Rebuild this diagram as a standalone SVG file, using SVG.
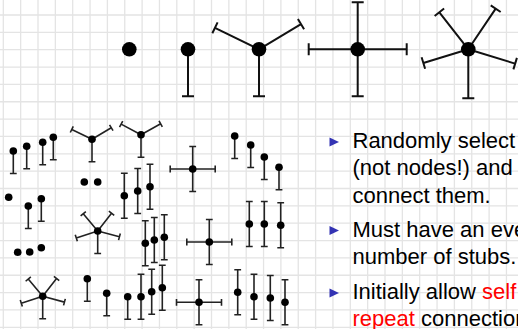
<svg xmlns="http://www.w3.org/2000/svg" xmlns:xlink="http://www.w3.org/1999/xlink" width="518" height="329" viewBox="0 0 518 329">
  <style>
    .grid { stroke: #e4e4e4; stroke-width: 1.3; fill: none; }
    .big { stroke: #111; stroke-width: 2; fill: none; }
    .sm { stroke: #222; stroke-width: 1.6; fill: none; }
    .dotL { fill: #000; }
    .dotS { fill: #000; }
    .t { font-family: "Liberation Sans", Arial, sans-serif; font-size: 22px; fill: #000; }
    .hl { fill: #ff0000; }
    .bul { fill: #3333b3; }
  </style>
  <defs>
    <!-- one stub hanging downward from the node centre, ending in a short bar -->
    <path id="sA" d="M0,0V47M-6,47H6"/>
    <path id="sB" d="M0,0V49M-6,49H6"/>
    <path id="s" d="M0,0V22.5M-3.4,22.5H3.4"/>
  </defs>

  <rect width="518" height="329" fill="#fff"/>
  <path class="grid" d="M3.3,0V329M20.65,0V329M38,0V329M55.35,0V329M72.7,0V329M90.05,0V329M107.4,0V329M124.75,0V329M142.1,0V329M159.45,0V329M176.8,0V329M194.15,0V329M211.5,0V329M228.85,0V329M246.2,0V329M263.55,0V329M280.9,0V329M298.25,0V329M315.6,0V329M332.95,0V329M350.3,0V329M367.65,0V329M385,0V329M402.35,0V329M419.7,0V329M437.05,0V329M454.4,0V329M471.75,0V329M489.1,0V329M506.45,0V329M0,15H518M0,32.35H518M0,49.7H518M0,67.05H518M0,84.4H518M0,101.75H518M0,119.1H518M0,136.45H518M0,153.8H518M0,171.15H518M0,188.5H518M0,205.85H518M0,223.2H518M0,240.55H518M0,257.9H518M0,275.25H518M0,292.6H518M0,309.95H518M0,327.3H518"/>

  <!-- top row: nodes of degree 0 to 5 -->
  <g id="deg0" transform="translate(129.3,49.3)">
    <circle class="dotL" r="7.3"/>
  </g>
  <g id="deg1" class="big" transform="translate(188,49.3)">
    <use xlink:href="#sA"/>
    <circle class="dotL" r="7.3" stroke="none"/>
  </g>
  <g id="deg3" class="big" transform="translate(259,49.3)">
    <use xlink:href="#sA"/>
    <use xlink:href="#sB" transform="rotate(116)"/>
    <use xlink:href="#sB" transform="rotate(-121)"/>
    <circle class="dotL" r="7.3" stroke="none"/>
  </g>
  <g id="deg4" class="big" transform="translate(357.7,49.3)">
    <use xlink:href="#sA"/>
    <use xlink:href="#sA" transform="rotate(180)"/>
    <use xlink:href="#sB" transform="rotate(90)"/>
    <use xlink:href="#sB" transform="rotate(-90)"/>
    <circle class="dotL" r="7.3" stroke="none"/>
  </g>
  <g id="deg5" class="big" transform="translate(468.3,49.3)">
    <use xlink:href="#sB"/>
    <use xlink:href="#sA" transform="rotate(73)"/>
    <use xlink:href="#sA" transform="rotate(142)"/>
    <use xlink:href="#sB" transform="rotate(-146)"/>
    <use xlink:href="#sB" transform="rotate(-73)"/>
    <circle class="dotL" r="7.3" stroke="none"/>
  </g>

  <!-- small network of stubbed nodes -->
  <g class="sm">
    <!-- isolated nodes -->
    <g id="n01" transform="translate(84.3,182)"><circle class="dotS" r="3.8" stroke="none"/></g>
    <g id="n02" transform="translate(97.7,182)"><circle class="dotS" r="3.8" stroke="none"/></g>
    <g id="n03" transform="translate(8.7,197.3)"><circle class="dotS" r="3.8" stroke="none"/></g>
    <g id="n04" transform="translate(17.7,252.3)"><circle class="dotS" r="3.8" stroke="none"/></g>
    <g id="n05" transform="translate(29.7,252)"><circle class="dotS" r="3.8" stroke="none"/></g>
    <g id="n06" transform="translate(41.3,247.7)"><circle class="dotS" r="3.8" stroke="none"/></g>

    <!-- one stub -->
    <g id="n07" transform="translate(13.3,151)"><use xlink:href="#s"/><circle class="dotS" r="3.8" stroke="none"/></g>
    <g id="n08" transform="translate(26.7,146.3)"><use xlink:href="#s"/><circle class="dotS" r="3.8" stroke="none"/></g>
    <g id="n09" transform="translate(42.7,142.3)"><use xlink:href="#s"/><circle class="dotS" r="3.8" stroke="none"/></g>
    <g id="n10" transform="translate(53.3,137.3)"><use xlink:href="#s"/><circle class="dotS" r="3.8" stroke="none"/></g>
    <g id="n11" transform="translate(28.3,206)"><use xlink:href="#s"/><circle class="dotS" r="3.8" stroke="none"/></g>
    <g id="n12" transform="translate(41.3,198.7)"><use xlink:href="#s"/><circle class="dotS" r="3.8" stroke="none"/></g>
    <g id="n13" transform="translate(234.7,136)"><use xlink:href="#s"/><circle class="dotS" r="3.8" stroke="none"/></g>
    <g id="n14" transform="translate(250.7,145)"><use xlink:href="#s"/><circle class="dotS" r="3.8" stroke="none"/></g>
    <g id="n15" transform="translate(264.3,157)"><use xlink:href="#s"/><circle class="dotS" r="3.8" stroke="none"/></g>
    <g id="n16" transform="translate(279,167.3)"><use xlink:href="#s"/><circle class="dotS" r="3.8" stroke="none"/></g>
    <g id="n17" transform="translate(87.3,278.7)"><use xlink:href="#s"/><circle class="dotS" r="3.8" stroke="none"/></g>
    <g id="n18" transform="translate(106.7,293.3)"><use xlink:href="#s"/><circle class="dotS" r="3.8" stroke="none"/></g>
    <g id="n19" transform="translate(127.7,296.7)"><use xlink:href="#s"/><circle class="dotS" r="3.8" stroke="none"/></g>

    <!-- two stubs -->
    <g id="n20" transform="translate(124.3,195.7)"><use xlink:href="#s"/><use xlink:href="#s" transform="rotate(180)"/><circle class="dotS" r="3.8" stroke="none"/></g>
    <g id="n21" transform="translate(137.7,191)"><use xlink:href="#s"/><use xlink:href="#s" transform="rotate(180)"/><circle class="dotS" r="3.8" stroke="none"/></g>
    <g id="n22" transform="translate(150,186.7)"><use xlink:href="#s"/><use xlink:href="#s" transform="rotate(180)"/><circle class="dotS" r="3.8" stroke="none"/></g>
    <g id="n23" transform="translate(145.3,243.3)"><use xlink:href="#s"/><use xlink:href="#s" transform="rotate(180)"/><circle class="dotS" r="3.8" stroke="none"/></g>
    <g id="n24" transform="translate(154.3,240)"><use xlink:href="#s"/><use xlink:href="#s" transform="rotate(180)"/><circle class="dotS" r="3.8" stroke="none"/></g>
    <g id="n25" transform="translate(164.3,237.3)"><use xlink:href="#s"/><use xlink:href="#s" transform="rotate(180)"/><circle class="dotS" r="3.8" stroke="none"/></g>
    <g id="n26" transform="translate(249.3,224)"><use xlink:href="#s"/><use xlink:href="#s" transform="rotate(180)"/><circle class="dotS" r="3.8" stroke="none"/></g>
    <g id="n27" transform="translate(264.3,224)"><use xlink:href="#s"/><use xlink:href="#s" transform="rotate(180)"/><circle class="dotS" r="3.8" stroke="none"/></g>
    <g id="n28" transform="translate(280.7,225.3)"><use xlink:href="#s"/><use xlink:href="#s" transform="rotate(180)"/><circle class="dotS" r="3.8" stroke="none"/></g>
    <g id="n29" transform="translate(141,296.7)"><use xlink:href="#s"/><use xlink:href="#s" transform="rotate(180)"/><circle class="dotS" r="3.8" stroke="none"/></g>
    <g id="n30" transform="translate(151.7,291.7)"><use xlink:href="#s"/><use xlink:href="#s" transform="rotate(180)"/><circle class="dotS" r="3.8" stroke="none"/></g>
    <g id="n31" transform="translate(162.3,287.7)"><use xlink:href="#s"/><use xlink:href="#s" transform="rotate(180)"/><circle class="dotS" r="3.8" stroke="none"/></g>
    <g id="n32" transform="translate(237.7,292.3)"><use xlink:href="#s"/><use xlink:href="#s" transform="rotate(180)"/><circle class="dotS" r="3.8" stroke="none"/></g>
    <g id="n33" transform="translate(254,296.7)"><use xlink:href="#s"/><use xlink:href="#s" transform="rotate(180)"/><circle class="dotS" r="3.8" stroke="none"/></g>
    <g id="n34" transform="translate(270.3,298)"><use xlink:href="#s"/><use xlink:href="#s" transform="rotate(180)"/><circle class="dotS" r="3.8" stroke="none"/></g>
    <g id="n35" transform="translate(285,302.3)"><use xlink:href="#s"/><use xlink:href="#s" transform="rotate(180)"/><circle class="dotS" r="3.8" stroke="none"/></g>

    <!-- three stubs -->
    <g id="n36" transform="translate(92,139.3)"><use xlink:href="#s"/><use xlink:href="#s" transform="rotate(116)"/><use xlink:href="#s" transform="rotate(-121)"/><circle class="dotS" r="3.8" stroke="none"/></g>
    <g id="n37" transform="translate(141,134.7)"><use xlink:href="#s"/><use xlink:href="#s" transform="rotate(118)"/><use xlink:href="#s" transform="rotate(-119)"/><circle class="dotS" r="3.8" stroke="none"/></g>

    <!-- four stubs -->
    <g id="n38" transform="translate(192.7,169)"><use xlink:href="#s"/><use xlink:href="#s" transform="rotate(180)"/><use xlink:href="#s" transform="rotate(90)"/><use xlink:href="#s" transform="rotate(-90)"/><circle class="dotS" r="3.8" stroke="none"/></g>
    <g id="n39" transform="translate(209.3,242)"><use xlink:href="#s"/><use xlink:href="#s" transform="rotate(180)"/><use xlink:href="#s" transform="rotate(90)"/><use xlink:href="#s" transform="rotate(-90)"/><circle class="dotS" r="3.8" stroke="none"/></g>
    <g id="n40" transform="translate(199,302.3)"><use xlink:href="#s"/><use xlink:href="#s" transform="rotate(180)"/><use xlink:href="#s" transform="rotate(90)"/><use xlink:href="#s" transform="rotate(-90)"/><circle class="dotS" r="3.8" stroke="none"/></g>

    <!-- five stubs -->
    <g id="n41" transform="translate(97.7,231)"><use xlink:href="#s"/><use xlink:href="#s" transform="rotate(72)"/><use xlink:href="#s" transform="rotate(140)"/><use xlink:href="#s" transform="rotate(-142)"/><use xlink:href="#s" transform="rotate(-75)"/><circle class="dotS" r="3.8" stroke="none"/></g>
    <g id="n42" transform="translate(42.7,296.3)"><use xlink:href="#s"/><use xlink:href="#s" transform="rotate(72)"/><use xlink:href="#s" transform="rotate(140)"/><use xlink:href="#s" transform="rotate(-142)"/><use xlink:href="#s" transform="rotate(-75)"/><circle class="dotS" r="3.8" stroke="none"/></g>
  </g>

  <!-- bullet list -->
  <g id="bullets">
    <path class="bul" d="M329.5,137.5L339,142L329.5,146.5Z"/>
    <path class="bul" d="M329.5,226L339,230.5L329.5,235Z"/>
    <path class="bul" d="M329.5,288.5L339,293L329.5,297.5Z"/>
    <text class="t" x="352.5" y="148.3">Randomly select</text>
    <text class="t" x="352.5" y="175">(not nodes!) and</text>
    <text class="t" x="352.5" y="202.7">connect them.</text>
    <text class="t" x="352.5" y="236.7">Must have an even</text>
    <text class="t" x="352.5" y="264.3">number of stubs.</text>
    <text class="t" x="352.5" y="299">Initially allow <tspan class="hl">self</tspan></text>
    <text class="t" x="352.5" y="325.7"><tspan class="hl">repeat</tspan> connections</text>
  </g>
</svg>
